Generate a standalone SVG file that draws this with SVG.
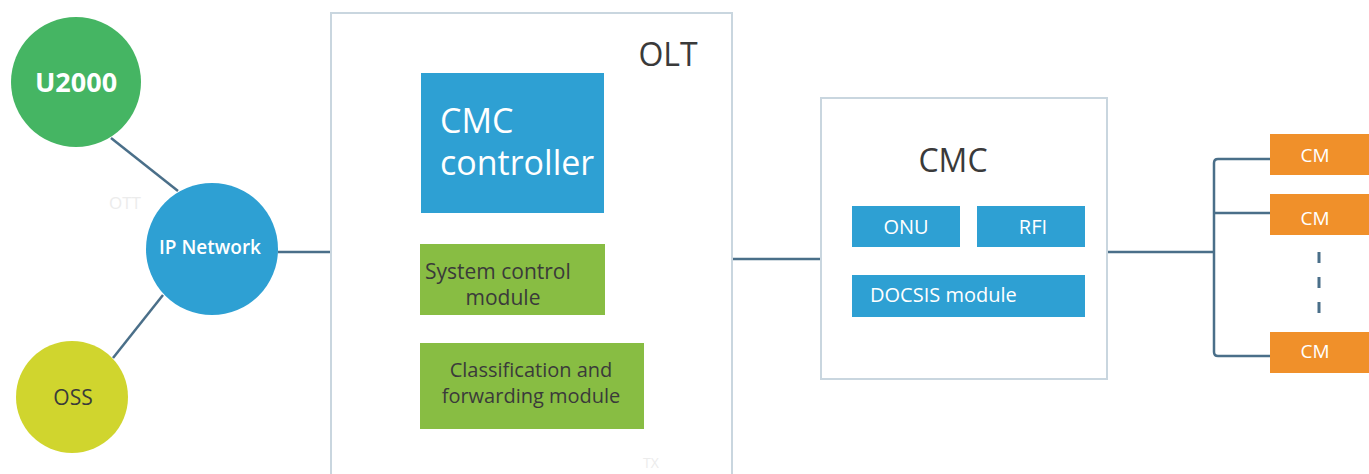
<svg xmlns="http://www.w3.org/2000/svg" width="1369" height="474" viewBox="0 0 1369 474">
<style>
.ln{stroke:#4a6f89;stroke-width:2.5;fill:none}
.frame{fill:#fff;stroke:#c9d6df;stroke-width:2}
.blue{fill:#2ea0d3}
.green{fill:#88bd43}
.orange{fill:#f0902a}
text{font-family:"Open Sans","Noto Sans",sans-serif}
.w{fill:#fff}
.d{fill:#3a3a3a}
.faint{fill:#ececec}
</style>
<rect width="1369" height="474" fill="#fff"/>
<g id="connectors">
<line class="ln" x1="111" y1="138" x2="178" y2="191"/>
<line class="ln" x1="113" y1="358" x2="163" y2="295"/>
<line class="ln" x1="278" y1="252" x2="331" y2="252"/>
<line class="ln" x1="732" y1="259" x2="821" y2="259"/>
<line class="ln" x1="1107" y1="252" x2="1214" y2="252"/>
<path class="ln" d="M1270 159 H1218 Q1214 159 1214 163 V352 Q1214 356 1218 356 H1270"/>
<line class="ln" x1="1214" y1="213" x2="1270" y2="213"/>
<line x1="1319" y1="252" x2="1319" y2="313" stroke="#4a6f89" stroke-width="3" stroke-dasharray="11,14"/>
</g>
<g id="u2000">
<circle cx="76" cy="82" r="65" fill="#45b563"/>
<text x="76" y="92" class="w" font-size="27" font-weight="bold" text-anchor="middle">U2000</text>
</g>
<g id="ipnetwork">
<circle cx="212" cy="249" r="66" fill="#2ea0d3"/>
<text x="210" y="254" class="w" font-size="19" text-anchor="middle" font-weight="600">IP Network</text>
</g>
<g id="oss">
<circle cx="72" cy="397" r="56" fill="#d0d52e"/>
<text x="73" y="405" class="d" font-size="21" text-anchor="middle">OSS</text>
</g>
<text x="125" y="209" class="faint" font-size="17" text-anchor="middle">OTT</text>
<g id="olt">
<rect class="frame" x="331" y="13" width="401" height="470"/>
<text x="668" y="66" class="d" font-size="32" text-anchor="middle">OLT</text>
<text x="651" y="468" class="faint" font-size="14" text-anchor="middle">TX</text>
</g>
<g id="cmc-controller">
<rect class="blue" x="421" y="73" width="183" height="140"/>
<text x="440" y="133" class="w" font-size="34">CMC</text>
<text x="440" y="175" class="w" font-size="34">controller</text>
</g>
<g id="system-control">
<rect class="green" x="420" y="244" width="185" height="71"/>
<text x="425" y="279" class="d" font-size="21">System control</text>
<text x="503" y="305" class="d" font-size="21" text-anchor="middle">module</text>
</g>
<g id="classification">
<rect class="green" x="420" y="343" width="224" height="86"/>
<text x="531" y="377" class="d" font-size="20" text-anchor="middle">Classification and</text>
<text x="531" y="403" class="d" font-size="20" text-anchor="middle">forwarding module</text>
</g>
<g id="cmc">
<rect class="frame" x="821" y="98" width="286" height="281"/>
<text x="953" y="172" class="d" font-size="32" text-anchor="middle">CMC</text>
</g>
<g id="onu">
<rect class="blue" x="852" y="206" width="108" height="41"/>
<text x="906" y="234" class="w" font-size="20" text-anchor="middle">ONU</text>
</g>
<g id="rfi">
<rect class="blue" x="977" y="206" width="108" height="41"/>
<text x="1033" y="234" class="w" font-size="20" text-anchor="middle">RFI</text>
</g>
<g id="docsis">
<rect class="blue" x="852" y="275" width="233" height="42"/>
<text x="870" y="302" class="w" font-size="20">DOCSIS module</text>
</g>
<g id="cm1">
<rect class="orange" x="1270" y="134" width="99" height="41"/>
<text x="1315" y="162" class="w" font-size="19" text-anchor="middle">CM</text>
</g>
<g id="cm2">
<rect class="orange" x="1270" y="194" width="99" height="41"/>
<text x="1315" y="225" class="w" font-size="19" text-anchor="middle">CM</text>
</g>
<g id="cm3">
<rect class="orange" x="1270" y="332" width="99" height="41"/>
<text x="1315" y="358" class="w" font-size="19" text-anchor="middle">CM</text>
</g>
</svg>
